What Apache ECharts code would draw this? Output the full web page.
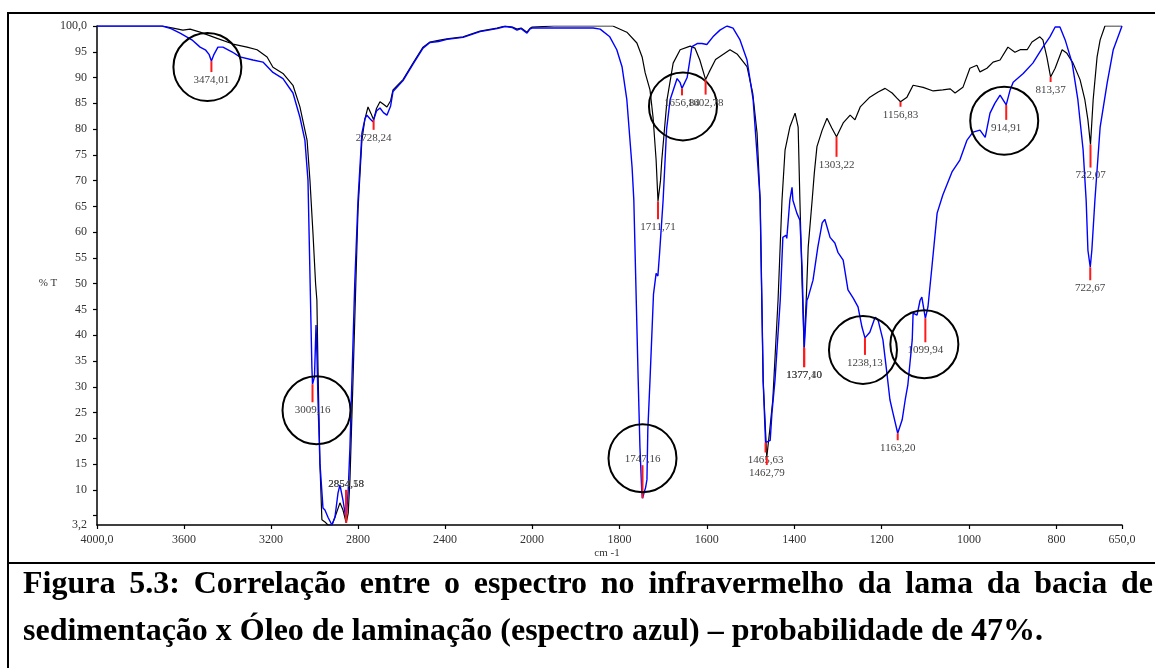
<!DOCTYPE html>
<html>
<head>
<meta charset="utf-8">
<script src="https://cdn.jsdelivr.net/npm/echarts@6/dist/echarts.min.js"></script>
<style>
  html, body { margin: 0; padding: 0; background: #fff; }
  #page { position: relative; width: 1155px; height: 668px; overflow: hidden; }
  #chart { position: absolute; left: 0; top: 0; width: 1155px; height: 668px; }
  .rule { position: absolute; background: #000; }
  .caption {
    position: absolute; left: 23px; width: 1130px;
    font: bold 32px "Liberation Serif", "Times New Roman", serif;
    line-height: 47px; color: #000;
  }
</style>
</head>
<body>
<div id="page">
  <div class="rule" style="left:7px;top:12px;width:2px;height:656px"></div>
  <div class="rule" style="left:7px;top:12px;width:1148px;height:2px"></div>
  <div class="rule" style="left:7px;top:562px;width:1148px;height:2px"></div>
  <div id="chart"></div>
  <div class="caption" style="top:559px;text-align:justify;text-align-last:justify">Figura 5.3: Correlação entre o espectro no infravermelho da lama da bacia de</div>
  <div class="caption" style="top:606px">sedimentação x Óleo de laminação (espectro azul) – probabilidade de 47%.</div>
</div>
<script>
// Sludge sample spectrum (black): [wavenumber cm-1, %T]
const blackSpectrum = [
  [4000,100],[3750,100],[3700,100],[3650,99.6],[3605,99.2],[3572,99.4],[3526,98.8],
  [3448,97.6],[3375,96.5],[3310,95.9],[3264,95.4],[3218,94.0],[3191,92.0],[3145,90.8],
  [3099,88.5],[3067,84.3],[3034,77.8],[3021,70.1],[3007,59.8],[2995,50.0],[2989,46.8],
  [2984,33.8],[2975,15.0],[2966,4.2],[2952,3.8],[2938,3.2],[2920,3.2],[2906,4.7],
  [2883,7.5],[2869,6.1],[2854.18,3.6],[2845,5.5],[2837,12.0],[2823,31.3],[2810,50.0],
  [2800,64.3],[2782,77.9],[2768,82.0],[2754,84.3],[2740,83.0],[2728.24,81.8],[2715,84.0],
  [2699,85.3],[2683,84.8],[2667,84.3],[2650,85.5],[2639,87.6],[2593,89.6],[2547,92.8],
  [2501,95.9],[2469,96.9],[2430,97.2],[2391,97.5],[2317,97.9],[2239,99.0],[2161,99.6],
  [2124,100],[2090,99.8],[2069,99.4],[2050,99.6],[2023,98.8],[2010,99.5],[2000,99.8],
  [1950,100],[1815,100],[1783,98.8],[1760,96.7],[1748,94.0],[1741,90.9],[1730,87.6],
  [1723,82.3],[1716,74.0],[1711.71,66.0],[1706,70.0],[1703,74.0],[1691,85.7],[1677,92.8],
  [1661,95.4],[1638,96.1],[1627,95.7],[1616,93.4],[1602.78,89.6],[1595,91.0],[1580,93.5],
  [1547,95.4],[1530,94.5],[1508,92.1],[1495,87.0],[1485,79.2],[1478,66.2],[1471,31.0],
  [1462.79,16.4],[1456,21.6],[1449,27.5],[1437,46.8],[1428,66.2],[1421,75.9],[1410,80.4],
  [1398,83.1],[1391,80.4],[1387,66.2],[1382,50.0],[1377.40,37.7],[1372,48.0],[1368,57.1],
  [1359,66.2],[1354,71.5],[1348,76.6],[1336,79.8],[1325,82.1],[1314,80.2],[1303.22,78.5],
  [1288,81.2],[1272,82.7],[1261,81.8],[1249,84.3],[1227,86.2],[1208,87.2],[1192,87.9],
  [1176,87.0],[1165,86.0],[1156.83,85.3],[1142,86.2],[1128,88.5],[1105,88.1],[1082,87.4],
  [1060,87.6],[1043,87.8],[1032,87.0],[1014,88.1],[998,91.8],[982,92.4],[975,91.1],
  [959,91.8],[945,93.0],[929,93.4],[911,95.9],[895,94.9],[883,95.4],[867,95.4],
  [856,96.9],[838,97.9],[831,97.3],[822,94.0],[813.37,90.1],[803,91.8],[787,95.4],
  [776,94.7],[762,92.8],[746,89.6],[735,85.7],[728,81.8],[722.07,77.0],[716,85.7],
  [707,94.0],[700,97.3],[689,100],[670,100],[650,100]
];

// Rolling oil spectrum (blue): [wavenumber cm-1, %T]
const blueSpectrum = [
  [4000,100],[3750,100],[3700,100],[3660,99.5],[3618,98.6],[3560,97.2],[3526,95.9],
  [3500,95.3],[3485,94.5],[3474.01,93.2],[3462,94.5],[3444,95.9],[3421,95.9],[3380,95.0],
  [3343,94.0],[3283,93.4],[3237,93.0],[3191,91.0],[3145,89.8],[3099,87.0],[3067,82.3],
  [3044,77.8],[3030,70.1],[3020,50.0],[3012,33.8],[3009.16,30.5],[3000,32.0],[2993,42.0],
  [2988,35.0],[2984,27.5],[2975,15.2],[2961,6.5],[2952,6.1],[2938,4.7],[2920,3.2],
  [2906,4.7],[2892,9.4],[2883,11.0],[2869,8.0],[2854.58,4.2],[2845,10.0],[2837,18.3],
  [2828,31.3],[2815,50.0],[2800,66.2],[2782,79.2],[2768,82.0],[2759,82.7],[2745,82.0],
  [2731,81.4],[2715,83.5],[2699,84.1],[2683,83.2],[2667,82.7],[2650,84.5],[2639,87.3],
  [2593,89.4],[2547,92.6],[2501,95.7],[2469,96.8],[2430,97.0],[2391,97.4],[2317,97.8],
  [2239,98.9],[2161,99.5],[2124,99.9],[2090,99.7],[2069,99.2],[2050,99.5],[2023,98.6],
  [2010,99.4],[2000,99.6],[1950,99.6],[1860,99.6],[1844,99.4],[1822,97.9],[1806,95.4],
  [1794,92.1],[1783,85.7],[1771,72.6],[1767,66.2],[1757,31.3],[1753,18.3],[1749,10.0],
  [1747.16,8.4],[1744,8.6],[1740,10.5],[1737,12.0],[1735,21.6],[1730,31.3],[1722,48.0],
  [1716,52.0],[1712,51.5],[1708,56.0],[1700,66.2],[1692,80.0],[1684,85.7],[1668,89.8],
  [1661,89.0],[1656.84,87.9],[1645,90.0],[1634,96.0],[1622,96.6],[1611,96.6],[1600,96.4],
  [1586,97.9],[1570,99.2],[1554,100],[1540,99.6],[1524,97.3],[1508,93.4],[1494,85.7],
  [1483,72.6],[1478,66.2],[1471,31.0],[1465.63,19.2],[1455,19.6],[1451,24.9],[1444,31.3],
  [1432,46.8],[1426,59.0],[1419,59.4],[1417,58.8],[1410,66.2],[1405,68.7],[1403,66.2],
  [1394,63.7],[1387,62.3],[1382,53.2],[1377.10,37.5],[1371,46.8],[1368,47.4],[1357,50.7],
  [1346,57.1],[1336,61.8],[1330,62.5],[1318,59.0],[1307,57.9],[1300,56.1],[1288,54.6],
  [1277,48.8],[1265,47.2],[1254,45.5],[1245,41.6],[1238.13,39.5],[1227,40.6],[1215,43.5],
  [1208,42.9],[1197,39.1],[1188,32.7],[1181,27.5],[1174,24.9],[1163.20,21.0],[1153,23.6],
  [1146,27.5],[1140,30.4],[1130,39.1],[1128,44.3],[1119,43.9],[1112,46.8],[1108,47.4],
  [1099.94,43.3],[1094,45.5],[1085,53.2],[1073,63.7],[1060,67.2],[1039,71.7],[1021,74.0],
  [1005,77.8],[991,79.4],[975,79.8],[963,78.4],[952,83.1],[941,85.0],[929,86.6],
  [914.91,84.7],[906,87.6],[899,89.1],[876,90.8],[854,92.8],[831,95.9],[815,97.9],
  [803,99.8],[792,99.8],[780,97.3],[764,92.8],[751,85.7],[739,76.0],[732,66.2],
  [728,56.5],[722.67,53.2],[719,56.5],[712,66.2],[700,80.4],[684,88.9],[670,95.4],[650,100]
];

// Picked band positions (cm-1) on each spectrum
const bluePeaks  = [3474.01, 3009.16, 2854.58, 1747.16, 1656.84, 1465.63, 1377.10, 1238.13, 1163.20, 1099.94, 914.91, 722.67];
const blackPeaks = [2728.24, 2854.18, 1711.71, 1602.78, 1462.79, 1377.40, 1303.22, 1156.83, 813.37, 722.07];
// Bands ringed as differences between the two spectra
const circledPeaks = [3474.01, 3009.16, 1747.16, 1656.84, 1238.13, 1099.94, 914.91];

// Axis ticks and their printed labels
const xTicksHigh = [4000, 3600, 3200, 2800, 2400, 2000];
const xLabelsHigh = ['4000,0', '3600', '3200', '2800', '2400', '2000'];
const xTicksLow = [1800, 1600, 1400, 1200, 1000, 800, 650];
const xLabelsLow = ['1800', '1600', '1400', '1200', '1000', '800', '650,0'];
const yTickMarks = [5, 10, 15, 20, 25, 30, 35, 40, 45, 50, 55, 60, 65, 70, 75, 80, 85, 90, 95, 100];
const yTickValues = [3.2, 10, 15, 20, 25, 30, 35, 40, 45, 50, 55, 60, 65, 70, 75, 80, 85, 90, 95, 100];
const yTickLabels = ['3,2', '10', '15', '20', '25', '30', '35', '40', '45', '50', '55', '60', '65', '70', '75', '80', '85', '90', '95', '100,0'];

// Marker drawing: red stem length (px), direction, and ring offset from the label
const markerStyle = {
  3474.01: { len: 11, ring: [-4, -13] },
  3009.16: { len: 18, ring: [4, 0] },
  2854.58: { len: 30, up: true },
  1747.16: { len: 33, up: true, ring: [0, -1] },
  1656.84: { len: 7, ring: [1, 3] },
  1465.63: { len: 10 },
  1377.10: { len: 19 },
  1238.13: { len: 17, ring: [-2, -13] },
  1163.20: { len: 7 },
  1099.94: { len: 24, ring: [-1, -6] },
  914.91:  { len: 15, ring: [-2, -7] },
  722.67:  { len: 13 },
  2728.24: { len: 10 },
  2854.18: { len: 33, up: true },
  1711.71: { len: 18 },
  1602.78: { len: 15 },
  1462.79: { len: 8 },
  1377.40: { len: 20 },
  1303.22: { len: 20 },
  1156.83: { len: 5 },
  813.37:  { len: 5 },
  722.07:  { len: 23 }
};

const SERIF = '"Liberation Serif", "Times New Roman", serif';
const SPLIT = 2000; // scale changes at 2000 cm-1

const inRange = (pts, lo, hi) => pts.filter(p => p[0] >= lo && p[0] <= hi);
const labelOf = (values, labels) => v => {
  const i = values.findIndex(t => Math.abs(t - v) < 1e-6);
  return i < 0 ? '' : labels[i];
};

function spectrumLine(pts, axis, color, width, z) {
  return {
    type: 'line', xAxisIndex: axis, yAxisIndex: axis,
    data: axis === 0 ? inRange(pts, SPLIT, 4000) : inRange(pts, 650, SPLIT),
    showSymbol: false, symbol: 'none', smooth: false, silent: true, z: z,
    lineStyle: { color: color, width: width }
  };
}

function peakSeries(list, spectrum, axis) {
  const data = list.map(wn => [wn, spectrum.find(p => p[0] === wn)[1]]);
  return {
    type: 'custom', xAxisIndex: axis, yAxisIndex: axis, clip: false, silent: true, z: 6,
    data: data,
    renderItem: function (params, api) {
      const wn = api.value(0);
      const pt = api.coord([wn, api.value(1)]);
      const m = markerStyle[wn];
      const dir = m.up ? -1 : 1;
      const y2 = pt[1] + dir * m.len;
      const ly = y2 + dir * (m.up ? 6 : 8);
      const children = [
        { type: 'line', shape: { x1: pt[0], y1: pt[1], x2: pt[0], y2: y2 },
          style: { stroke: '#ff1a1a', lineWidth: 2 } },
        { type: 'text', x: pt[0], y: ly,
          style: { text: wn.toFixed(2).replace('.', ','), align: 'center', verticalAlign: 'middle',
                   font: '11px ' + SERIF, fill: '#444' } }
      ];
      if (m.ring && circledPeaks.indexOf(wn) >= 0) {
        children.push({ type: 'circle', shape: { cx: pt[0] + m.ring[0], cy: ly + m.ring[1], r: 34 },
          style: { fill: 'none', stroke: '#000', lineWidth: 2 } });
      }
      return { type: 'group', children: children };
    }
  };
}

const axisLineStyle = { show: true, onZero: false, lineStyle: { color: '#000', width: 1.5 } };
const labelFont = { fontFamily: SERIF, fontSize: 12, color: '#333' };

function xAxisFor(grid, min, max, ticks, labels) {
  return {
    type: 'value', gridIndex: grid, min: min, max: max, inverse: true,
    axisLine: axisLineStyle,
    axisTick: { show: true, length: 4, customValues: ticks, lineStyle: { color: '#000', width: 1.2 } },
    axisLabel: Object.assign({ customValues: ticks, margin: 9, formatter: labelOf(ticks, labels) }, labelFont),
    splitLine: { show: false }
  };
}

const chart = echarts.init(document.getElementById('chart'), null, { renderer: 'canvas' });
chart.setOption({
  animation: false,
  grid: [
    { left: 97, top: 26, width: 435, height: 499 },
    { left: 532, top: 26, width: 590, height: 499 }
  ],
  xAxis: [
    xAxisFor(0, SPLIT, 4000, xTicksHigh, xLabelsHigh),
    xAxisFor(1, 650, SPLIT, xTicksLow, xLabelsLow)
  ],
  yAxis: [
    {
      type: 'value', gridIndex: 0, min: 3.2, max: 100,
      axisLine: axisLineStyle,
      axisTick: { show: true, length: 4, customValues: yTickMarks, lineStyle: { color: '#000', width: 1.2 } },
      axisLabel: Object.assign({ customValues: yTickValues, margin: 10, padding: [0, 0, 5, 0],
                                 formatter: labelOf(yTickValues, yTickLabels) }, labelFont),
      splitLine: { show: false }
    },
    { type: 'value', gridIndex: 1, min: 3.2, max: 100, show: false }
  ],
  graphic: [
    { type: 'text', x: 48, y: 283, silent: true,
      style: { text: '% T', align: 'center', verticalAlign: 'middle', font: '11px ' + SERIF, fill: '#333' } },
    { type: 'text', x: 607, y: 553, silent: true,
      style: { text: 'cm -1', align: 'center', verticalAlign: 'middle', font: '11px ' + SERIF, fill: '#333' } }
  ],
  series: [
    spectrumLine(blackSpectrum, 0, '#000000', 1.2, 2),
    spectrumLine(blackSpectrum, 1, '#000000', 1.2, 2),
    spectrumLine(blueSpectrum, 0, '#0000ff', 1.4, 3),
    spectrumLine(blueSpectrum, 1, '#0000ff', 1.4, 3),
    peakSeries(bluePeaks.filter(w => w >= SPLIT), blueSpectrum, 0),
    peakSeries(bluePeaks.filter(w => w < SPLIT), blueSpectrum, 1),
    peakSeries(blackPeaks.filter(w => w >= SPLIT), blackSpectrum, 0),
    peakSeries(blackPeaks.filter(w => w < SPLIT), blackSpectrum, 1)
  ]
});
</script>
</body>
</html>
